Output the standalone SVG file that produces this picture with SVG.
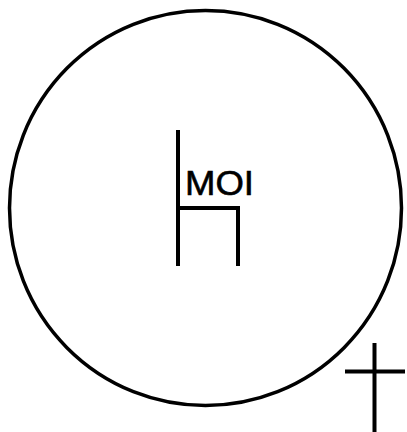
<svg xmlns="http://www.w3.org/2000/svg" width="407" height="432" viewBox="0 0 407 432">
<style>
.ln{stroke:#000;stroke-width:4;fill:none}
.lbl{font-family:"Liberation Sans",Arial,sans-serif;font-size:35px;fill:#000;stroke:#000;stroke-width:0.6}
</style>
<rect width="407" height="432" fill="#fff"/>
<g id="circle"><ellipse cx="205.5" cy="208" rx="196" ry="197.5" fill="none" stroke="#000" stroke-width="3.5"/></g>
<g id="chair">
<path class="ln" d="M178 130V266M178 208H238V266"/>
<text class="lbl" x="185" y="195" textLength="69" lengthAdjust="spacingAndGlyphs">MOI</text>
</g>
<g id="cross"><path class="ln" d="M374.5 343V432M345 371.5H405"/></g>
</svg>
